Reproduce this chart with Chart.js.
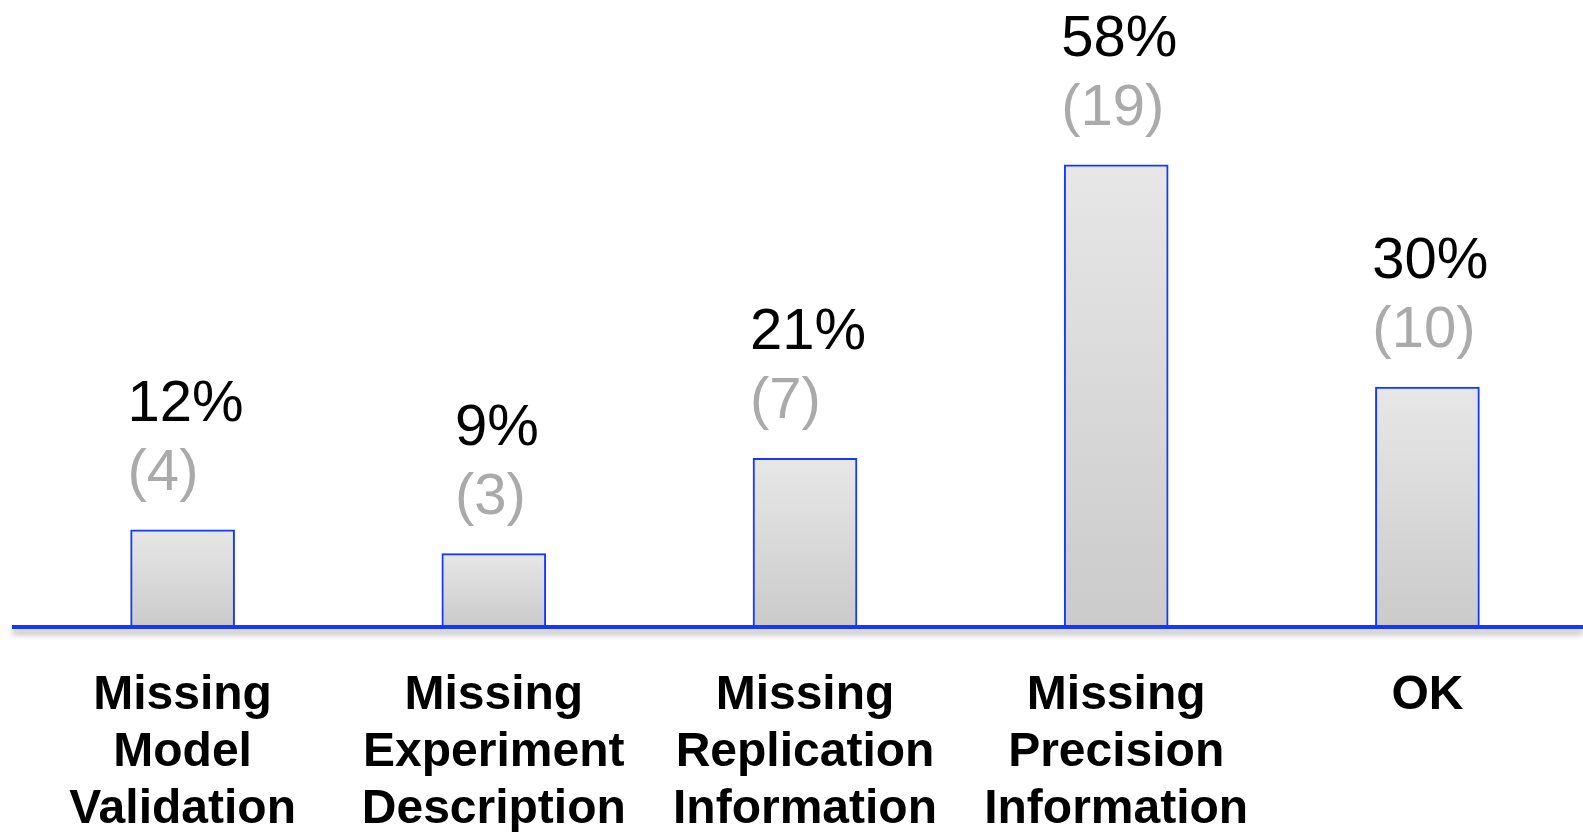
<!DOCTYPE html>
<html>
<head>
<meta charset="utf-8">
<script src="https://cdn.jsdelivr.net/npm/chart.js@4/dist/chart.umd.min.js"></script>
<style>
  html, body { margin: 0; padding: 0; background: #ffffff; }
  #wrap { width: 1583px; height: 832px; position: relative; }
</style>
</head>
<body>
<div id="wrap"><canvas id="chart"></canvas></div>
<script>
// Category labels (one array entry per line)
const categories = [
  ['Missing', 'Model', 'Validation'],
  ['Missing', 'Experiment', 'Description'],
  ['Missing', 'Replication', 'Information'],
  ['Missing', 'Precision', 'Information'],
  ['OK']
];
// Share of cases per category, in percent
const percents = [12, 9, 21, 58, 30];
// Number of cases per category
const counts = [4, 3, 7, 19, 10];

const BLUE = '#1438ff';
const FONT = '"Liberation Sans", Arial, Helvetica, sans-serif';

// Per-bar vertical gradient, light grey at top to darker grey at the base
function barGradient(c) {
  const chart = c.chart;
  const y = chart.scales.y;
  if (!y || c.raw == null) return '#dcdcdc';
  const top = y.getPixelForValue(c.raw);
  const bot = y.getPixelForValue(0);
  if (!isFinite(top) || !isFinite(bot) || top === bot) return '#dcdcdc';
  const g = chart.ctx.createLinearGradient(0, top, 0, bot);
  g.addColorStop(0, '#e7e7e7');
  g.addColorStop(1, '#cbcbcb');
  return g;
}

// Thick blue baseline with a soft shadow beneath it
const baselinePlugin = {
  id: 'baseline',
  afterDatasetsDraw(chart) {
    const ctx = chart.ctx;
    const y0 = chart.scales.y.getPixelForValue(0) + 2;
    ctx.save();
    ctx.shadowColor = 'rgba(0,0,0,0.35)';
    ctx.shadowBlur = 6;
    ctx.shadowOffsetY = 5;
    ctx.strokeStyle = BLUE;
    ctx.lineWidth = 4;
    ctx.beginPath();
    ctx.moveTo(12, y0);
    ctx.lineTo(chart.width, y0);
    ctx.stroke();
    ctx.restore();
  }
};

// Percent and count labels stacked above each bar
const valueLabelPlugin = {
  id: 'valueLabels',
  afterDatasetsDraw(chart) {
    const ctx = chart.ctx;
    const meta = chart.getDatasetMeta(0);
    ctx.save();
    ctx.font = '58px ' + FONT;
    ctx.textAlign = 'left';
    ctx.textBaseline = 'alphabetic';
    meta.data.forEach((bar, i) => {
      const pctText = percents[i] + '%';
      const w = ctx.measureText(pctText).width;
      const x0 = bar.x - w / 2 + 3;
      const countBase = bar.y - 40;
      ctx.fillStyle = '#000000';
      ctx.fillText(pctText, x0, countBase - 69);
      ctx.fillStyle = '#aaaaaa';
      ctx.fillText('(' + counts[i] + ')', x0, countBase);
    });
    ctx.restore();
  }
};

new Chart(document.getElementById('chart'), {
  type: 'bar',
  data: {
    labels: categories,
    datasets: [{
      data: percents,
      backgroundColor: barGradient,
      borderColor: BLUE,
      borderWidth: 2,
      borderSkipped: 'bottom',
      barThickness: 104
    }]
  },
  options: {
    responsive: true,
    maintainAspectRatio: false,
    animation: false,
    events: [],
    layout: { padding: { left: 27, right: 0, top: 30, bottom: 0 } },
    plugins: {
      legend: { display: false },
      tooltip: { enabled: false }
    },
    scales: {
      x: {
        grid: { display: false, drawTicks: false },
        border: { display: false },
        afterFit(scale) { scale.height = 207; },
        ticks: {
          color: '#000000',
          padding: 42,
          maxRotation: 0,
          autoSkip: false,
          font: { family: FONT, size: 48, weight: 'bold', lineHeight: 1.1875 }
        }
      },
      y: {
        display: false,
        min: 0,
        max: 75
      }
    }
  },
  plugins: [baselinePlugin, valueLabelPlugin]
});
</script>
</body>
</html>
